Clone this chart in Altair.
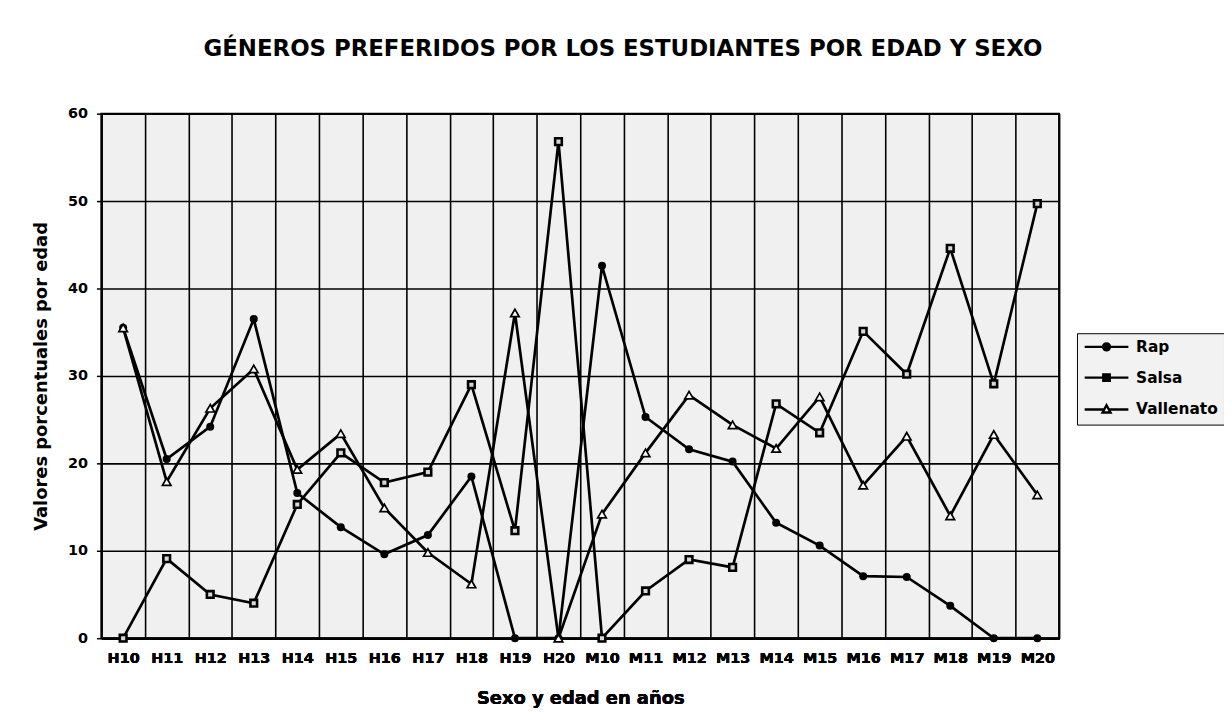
import altair as alt
import pandas as pd

categories = ["H10", "H11", "H12", "H13", "H14", "H15", "H16", "H17", "H18", "H19", "H20",
              "M10", "M11", "M12", "M13", "M14", "M15", "M16", "M17", "M18", "M19", "M20"]
series = ["Rap", "Salsa", "Vallenato"]
rap = [35.5, 20.5, 24.2, 36.5, 16.6, 12.7, 9.6, 11.8, 18.5, 0, 0,
       42.6, 25.3, 21.6, 20.2, 13.2, 10.6, 7.1, 7.0, 3.7, 0, 0]
salsa = [0, 9.1, 5.0, 4.0, 15.3, 21.2, 17.8, 19.0, 29.0, 12.3, 56.8,
         0, 5.4, 9.0, 8.1, 26.8, 23.5, 35.1, 30.2, 44.6, 29.1, 49.7]
vallenato = [35.5, 17.9, 26.3, 30.8, 19.3, 23.4, 14.9, 9.8, 6.2, 37.2, 0,
             14.2, 21.2, 27.8, 24.4, 21.7, 27.6, 17.5, 23.1, 14.0, 23.3, 16.4]
y_ticks = [0, 10, 20, 30, 40, 50, 60]

title_text = "GÉNEROS PREFERIDOS POR LOS ESTUDIANTES POR EDAD Y SEXO"
x_title = "Sexo y edad en años"
y_title = "Valores porcentuales por edad"

rows = []
for s, vals in zip(series, [rap, salsa, vallenato]):
    for i, c in enumerate(categories):
        rows.append({"idx": i, "cat": c, "serie": s, "valor": vals[i]})
df = pd.DataFrame(rows)

W, H = 964, 528
n = len(categories)
FONT = "DejaVu Sans"

grid_vals = [i - 0.5 for i in range(n + 1)]
label_vals = list(range(n))
label_arr = "[" + ",".join("'" + c + "'" for c in categories) + "]"

x_scale = alt.Scale(domain=[-0.5, n - 0.5], nice=False, zero=False)

# axis carrying the vertical grid (category boundaries)
x_grid = alt.X(
    "idx:Q", scale=x_scale, title=None,
    axis=alt.Axis(orient="top", values=grid_vals, grid=True, labels=False,
                  ticks=False, domain=False),
)
# axis carrying the category labels
x_lab = alt.X(
    "idx:Q", scale=x_scale, title=x_title,
    axis=alt.Axis(orient="bottom", values=label_vals, grid=False,
                  labelExpr=label_arr + "[datum.value]",
                  labelFlush=False, labelOverlap=False, ticks=False,
                  labelPadding=13, titlePadding=25),
)
y_enc = alt.Y(
    "valor:Q",
    scale=alt.Scale(domain=[0, 60], nice=False),
    axis=alt.Axis(values=y_ticks, grid=True, tickSize=5, labelPadding=9, titlePadding=17),
    title=y_title,
)

base = alt.Chart(df)

lines = base.mark_line(color="black", strokeWidth=2.7).encode(
    x=x_grid, y=y_enc, detail="serie:N"
)

pts_rap = base.transform_filter(alt.datum.serie == "Rap").mark_point(
    shape="circle", filled=True, color="black", size=65, opacity=1
).encode(x=x_lab, y=y_enc)

pts_salsa = base.transform_filter(alt.datum.serie == "Salsa").mark_point(
    shape="square", filled=True, fill="#d8d8d8", stroke="black", strokeWidth=2.6, size=45, opacity=1
).encode(x=x_lab, y=y_enc)

pts_vall = base.transform_filter(alt.datum.serie == "Vallenato").mark_point(
    shape="triangle-up", filled=True, fill="white", stroke="black", strokeWidth=1.7, size=75, opacity=1
).encode(x=x_lab, y=y_enc)

# legend symbols: line segment + marker (custom paths, unit = 5px at size 100)
p_rap = ("M-4.4,0L4.4,0"
         "M-0.7,0A0.7,0.7,0,1,1,0.7,0A0.7,0.7,0,1,1,-0.7,0"
         "M-0.3,0A0.3,0.3,0,1,1,0.3,0A0.3,0.3,0,1,1,-0.3,0")
p_salsa = ("M-4.4,0L4.4,0"
           "M-0.65,-0.65L0.65,-0.65L0.65,0.65L-0.65,0.65Z"
           "M-0.3,-0.3L0.3,-0.3L0.3,0.3L-0.3,0.3Z")
p_vall = ("M-4.4,0L-0.45,0M0.45,0L4.4,0"
          "M0,-0.85L0.8,0.6L-0.8,0.6Z")

legend_layer = base.transform_filter("false").mark_point(
    filled=False, stroke="black", strokeWidth=2.4, size=100, opacity=1
).encode(
    x=x_lab,
    y=y_enc,
    shape=alt.Shape(
        "serie:N",
        scale=alt.Scale(domain=series, range=[p_rap, p_salsa, p_vall]),
        legend=alt.Legend(
            title=None,
            orient="none",
            legendX=982,
            legendY=221,
            symbolSize=100,
            symbolStrokeColor="black",
            symbolFillColor="transparent",
            symbolStrokeWidth=2.4,
            symbolOffset=16,
            labelOffset=22,
            labelFont=FONT,
            labelFontSize=15.5,
            labelFontWeight="bold",
            labelColor="black",
            rowPadding=13,
            padding=6,
            fillColor="#f2f2f2",
            strokeColor="black",
        ),
    ),
)

chart = alt.layer(lines, pts_rap, pts_salsa, pts_vall, legend_layer).resolve_axis(
    x="independent"
).properties(
    width=W,
    height=H,
    title=alt.TitleParams(
        title_text,
        font=FONT,
        fontSize=23,
        fontWeight="bold",
        color="black",
        anchor="middle",
        offset=45,
        dx=43,
    ),
    autosize=alt.AutoSizeParams(type="none"),
    padding={"left": 94, "top": 104, "right": 166, "bottom": 82},
).configure_view(
    stroke="black", strokeWidth=2, fill="#f0f0f0"
).configure_axis(
    domainColor="black",
    domainWidth=2,
    gridColor="black",
    gridWidth=1.6,
    gridOpacity=1,
    tickColor="black",
    tickWidth=1.5,
    labelFont=FONT,
    labelFontSize=14.5,
    labelFontWeight="bold",
    labelColor="black",
    titleFont=FONT,
    titleFontSize=18,
    titleFontWeight="bold",
    titleColor="black",
)

chart.save("out.html", embed_options={"renderer": "svg", "actions": False})
